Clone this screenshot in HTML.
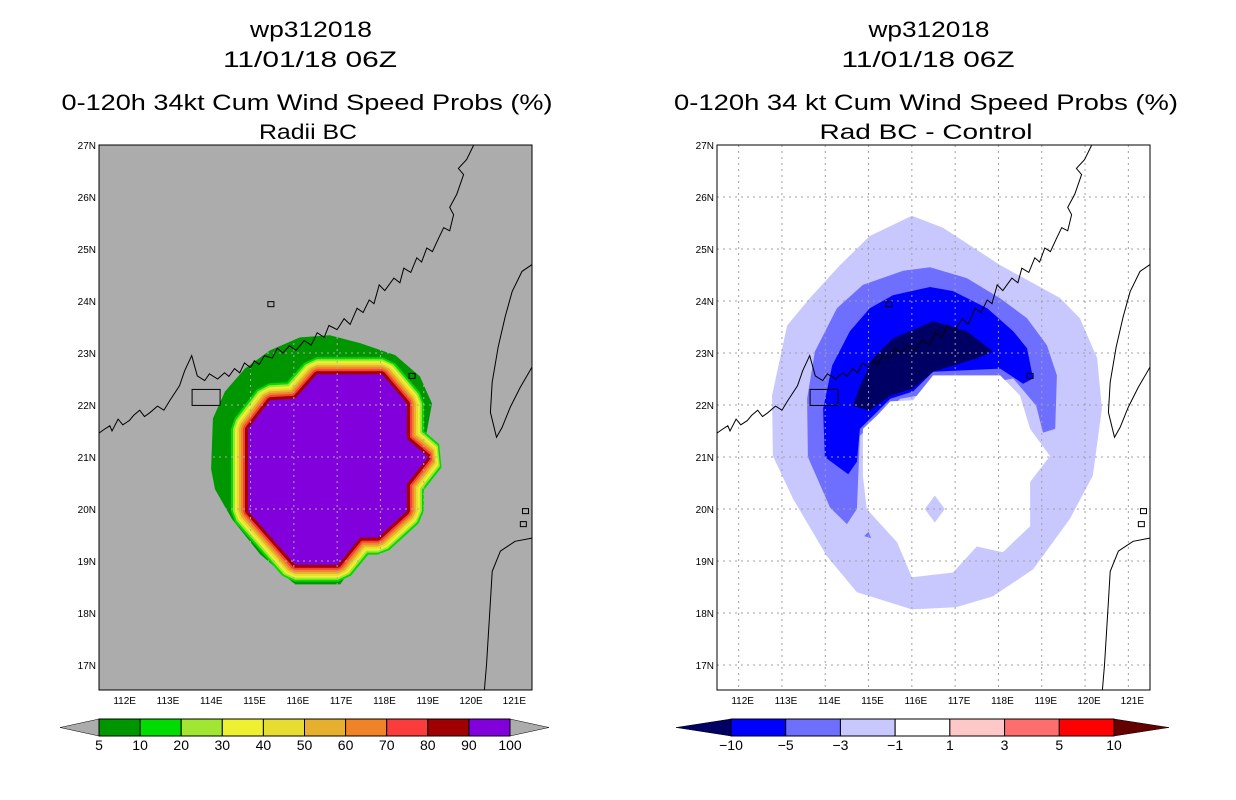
<!DOCTYPE html>
<html><head><meta charset="utf-8"><style>
body{margin:0;background:#fff;font-family:"Liberation Sans",sans-serif}
svg{display:block}
</style></head><body>
<svg id="s" width="1236" height="800" viewBox="0 0 1236 800"></svg>
<script>
const lonMin=111.5,lonMax=121.5,latMin=16.52,latMax=27;
const lonTicks=[112,113,114,115,116,117,118,119,120,121];
const latTicks=[17,18,19,20,21,22,23,24,25,26,27];
// left panel probability core (90-100%) and 5-10% outer blob, [lon,lat]
const coreProb=[[114.94,21.54],[115.45,22.09],[116.03,22.12],[116.53,22.59],[118.04,22.59],[118.61,22.03],[118.61,21.35],[119.10,21.0],[118.61,20.48],[118.61,19.96],[117.94,19.45],[117.53,19.45],[117.02,18.93],[116.03,18.93],[114.94,19.96]];
const outerProb=[[114.09,20.77],[114.13,21.74],[114.41,22.26],[114.87,22.70],[115.45,23.05],[116.14,23.30],[116.83,23.34],[117.53,23.19],[118.34,22.96],[118.91,22.55],[119.19,22.03],[118.91,20.77],[117.07,18.55],[116.03,18.55],[115.22,19.13],[114.57,19.81],[114.18,20.38]];
const probLevels=[5,10,20,30,40,50,60,70,80,90,100];
const probColors=["#009600","#00dc00","#a0e632","#f0f032","#e6dc32","#e6af2d","#f08228","#fa3c3c","#a00000","#8200dc"];
// right panel difference contours
const diffM1=[[116.00,25.64],[115.03,25.25],[114.34,24.69],[113.65,24.06],[113.12,23.53],[112.77,22.18],[112.79,21.02],[113.26,20.19],[114.04,19.09],[114.73,18.40],[116.00,18.07],[117.02,18.11],[117.87,18.32],[118.80,18.84],[119.65,19.81],[120.18,20.64],[120.39,21.93],[120.28,22.90],[119.88,23.67],[119.42,24.06],[118.04,24.69],[116.72,25.41]];
const diffM3=[[114.11,20.03],[113.60,21.00],[113.58,22.12],[113.76,23.03],[114.27,23.86],[114.87,24.31],[115.80,24.58],[116.42,24.65],[117.27,24.44],[118.04,24.05],[118.66,23.67],[119.12,23.15],[119.35,22.57],[119.31,21.54],[119.03,21.47],[118.87,21.99],[118.34,22.51],[115.73,22.12],[114.80,21.41],[114.73,20.00],[114.50,19.71]];
const diffM5=[[114.53,20.67],[113.99,21.00],[113.95,21.93],[114.16,22.76],[114.57,23.42],[115.03,23.86],[115.56,24.11],[116.42,24.27],[116.95,24.19],[117.74,23.86],[118.34,23.42],[118.66,23.09],[118.80,22.51],[118.57,22.41],[118.04,22.70],[116.49,22.64],[116.03,22.26],[115.50,22.12],[114.80,21.54],[114.73,20.91]];
const diffM10=[[114.64,21.98],[114.80,22.37],[115.10,22.90],[115.56,23.28],[116.49,23.61],[117.27,23.42],[117.87,23.03],[117.50,22.90],[116.49,22.64],[116.03,22.32],[115.50,22.18],[115.03,21.89]];
const diffHole=[[114.87,21.54],[115.20,21.80],[115.50,22.07],[116.03,22.09],[116.49,22.57],[118.04,22.57],[118.50,22.18],[118.73,21.54],[119.19,21.02],[118.73,20.52],[118.73,19.67],[118.10,19.17],[117.50,19.28],[116.95,18.78],[116.00,18.69],[115.66,19.36],[114.96,20.00],[114.87,20.64]];
const diffDiamond=[[116.30,20.0],[116.53,20.26],[116.76,20.0],[116.53,19.74]];
const diffDot=[[114.90,19.48],[115.0,19.56],[115.06,19.44]];
const diffLevels=[-10,-5,-3,-1,1,3,5,10];
const diffColors=["#000064","#0000ff","#6e6eff","#c8c8ff","#ffffff","#ffc8c8","#ff6e6e","#ff0000","#640000"];
// coastline [lon,lat]
const coast=[[111.5,21.46],[111.6,21.52],[111.75,21.6],[111.8,21.5],[111.94,21.73],[112.05,21.62],[112.2,21.7],[112.3,21.8],[112.44,21.9],[112.55,21.78],[112.67,21.85],[112.85,21.98],[113.0,21.9],[113.13,22.08],[113.36,22.37],[113.48,22.66],[113.64,22.95],[113.77,22.56],[113.94,22.47],[114.05,22.6],[114.24,22.5],[114.4,22.62],[114.5,22.55],[114.63,22.7],[114.75,22.62],[114.86,22.81],[115.0,22.72],[115.09,22.85],[115.2,22.78],[115.32,22.95],[115.5,22.9],[115.62,23.09],[115.75,23.0],[115.9,23.14],[116.05,23.05],[116.24,23.24],[116.4,23.15],[116.54,23.39],[116.7,23.3],[116.81,23.53],[117.0,23.45],[117.16,23.66],[117.3,23.55],[117.46,23.86],[117.6,23.78],[117.74,24.02],[117.85,23.95],[117.97,24.31],[118.1,24.2],[118.31,24.44],[118.45,24.35],[118.54,24.63],[118.7,24.55],[118.84,24.83],[118.95,24.75],[119.07,25.02],[119.2,24.95],[119.35,25.22],[119.46,25.41],[119.6,25.35],[119.69,25.66],[119.6,25.8],[119.76,26.05],[119.92,26.43],[119.8,26.55],[119.99,26.72],[120.15,26.99]];
const taiwan=[[121.5,24.7],[121.27,24.57],[121.04,24.18],[120.88,23.7],[120.72,23.12],[120.58,22.44],[120.54,21.86],[120.68,21.38],[120.81,21.57],[121.0,21.96],[121.23,22.34],[121.5,22.73]];
const luzon=[[121.5,19.44],[121.11,19.38],[120.77,19.19],[120.58,18.8],[120.54,18.22],[120.45,17.0],[120.4,16.52]];
const islands=[[115.47,23.93],[118.73,22.55],[121.3,19.7],[121.35,19.95]];

const NS="http://www.w3.org/2000/svg";
const svg=document.getElementById('s');
function el(tag,attrs,parent){const e=document.createElementNS(NS,tag);for(const k in attrs)e.setAttribute(k,attrs[k]);(parent||svg).appendChild(e);return e;}
function panel(x0){
  const y0=145,w=433,h=545;
  const X=lon=>x0+(lon-lonMin)/(lonMax-lonMin)*w;
  const Y=lat=>y0+(latMax-lat)/(latMax-latMin)*h;
  const pts=a=>a.map(p=>X(p[0]).toFixed(1)+','+Y(p[1]).toFixed(1)).join(' ');
  return {x0,y0,w,h,X,Y,pts};
}
function text(x,y,s,size,anchor,name,len){const t=el('text',{x,y,'font-size':size,'text-anchor':anchor||'middle',fill:'#000','font-family':'"Liberation Sans",sans-serif'});t.textContent=s;
if(len){t.setAttribute('textLength',len);t.setAttribute('lengthAdjust','spacingAndGlyphs');}


return t;}
function axes(P,g,name,gridColor){
  for(const lon of lonTicks){const l=el('line',{x1:P.X(lon),x2:P.X(lon),y1:P.y0,y2:P.y0+P.h,stroke:gridColor,'stroke-width':1,'stroke-dasharray':'2,4'},g);
  
  }
  for(const lat of latTicks){const l=el('line',{x1:P.x0,x2:P.x0+P.w,y1:P.Y(lat),y2:P.Y(lat),stroke:gridColor,'stroke-width':1,'stroke-dasharray':'2,4'},g);
  
  }
  const c1=el('polyline',{points:P.pts(coast),fill:'none',stroke:'#000','stroke-width':1},g);
  
  
  const c2=el('polyline',{points:P.pts(taiwan),fill:'none',stroke:'#000','stroke-width':1},g);
  
  
  const c3=el('polyline',{points:P.pts(luzon),fill:'none',stroke:'#000','stroke-width':1},g);
  
  
  for(const p of islands){const r=el('rect',{x:P.X(p[0])-3,y:P.Y(p[1])-3,width:6,height:5,fill:'none',stroke:'#000','stroke-width':1},g);
  
  }
  const bx=el('rect',{x:P.X(113.65),y:P.Y(22.3),width:28,height:16,fill:'none',stroke:'#000','stroke-width':1},g);
  
  
  const fr=el('rect',{x:P.x0,y:P.y0,width:P.w,height:P.h,fill:'none',stroke:'#000','stroke-width':1},g);
  
  
  for(const lon of lonTicks){text(P.X(lon)+4,704,lon+'E',10,'middle','lon-tick-label');}
  for(const lat of latTicks){text(P.x0-3,P.Y(lat)+4,lat+'N',10,'end','lat-tick-label');}
}
// LEFT
const L=panel(99);
const gL=el('g',{});


el('rect',{x:L.x0,y:L.y0,width:L.w,height:L.h,fill:'#acacac'},gL);
const ob=el('polygon',{points:L.pts(outerProb),fill:probColors[0]},gL);


for(let i=1;i<probColors.length-1;i++){
  const wdt=2*(17-(i-1)*2);
  const p=el('polygon',{points:L.pts(coreProb),fill:probColors[i],stroke:probColors[i],'stroke-width':wdt,'stroke-linejoin':'bevel'},gL);
  
  
}
const core=el('polygon',{points:L.pts(coreProb),fill:probColors[9]},gL);


axes(L,gL,'left-map','#acacac');
// RIGHT
const R=panel(717);
const gR=el('g',{});


el('rect',{x:R.x0,y:R.y0,width:R.w,height:R.h,fill:'#fff'},gR);
const layers=[[diffM1,3,'diff-minus1'],[diffM3,2,'diff-minus3'],[diffM5,1,'diff-minus5'],[diffM10,0,'diff-minus10'],[diffHole,4,'diff-neutral'],[diffDiamond,3,'diff-diamond'],[diffDot,2,'diff-dot']];
for(const [poly,ci,nm] of layers){
  const p=el('polygon',{points:R.pts(poly),fill:diffColors[ci]},gR);
  
  
}
axes(R,gR,'right-map','#a0a0a0');
// Titles
text(311,37,'wp312018',22,'middle','left-title-storm',122);
text(310,67,'11/01/18 06Z',22,'middle','left-title-date',174);
text(307,110,'0-120h 34kt Cum Wind Speed Probs (%)',22,'middle','left-title-product',491);
text(308,139,'Radii BC',21,'middle','left-subtitle',98);
text(929,37,'wp312018',22,'middle','right-title-storm',121);
text(928,67,'11/01/18 06Z',22,'middle','right-title-date',173);
text(926,110,'0-120h 34 kt Cum Wind Speed Probs (%)',22,'middle','right-title-product',504);
text(926,139,'Rad BC - Control',21,'middle','right-subtitle',213);
// Colorbars
function colorbar(x0,x1,tri,levels,colors,endL,endR,name){
  const n=levels.length-1,bw=(x1-x0)/n,y=719,h=17;
  const g=el('g',{});
  
  
  const a=el('polygon',{points:`${x0-tri},${y+h/2} ${x0},${y} ${x0},${y+h}`,fill:endL,stroke:'#000','stroke-width':0.5},g);
  
  
  const b=el('polygon',{points:`${x1+tri},${y+h/2} ${x1},${y} ${x1},${y+h}`,fill:endR,stroke:'#000','stroke-width':0.5},g);
  
  
  for(let i=0;i<n;i++){const r=el('rect',{x:x0+i*bw,y,width:bw,height:h,fill:colors[i],stroke:'#000','stroke-width':1},g);
  
  }
  levels.forEach((v,i)=>{const t=text(x0+i*bw,750,String(v).replace('-','\u2212'),14,'middle','colorbar-label');g.appendChild(t);});
}
colorbar(99,510,39,probLevels,probColors,'#acacac','#acacac','prob-colorbar');
colorbar(731,1114,55,diffLevels,diffColors.slice(1,8),diffColors[0],diffColors[8],'diff-colorbar');
</script>
</body></html>
